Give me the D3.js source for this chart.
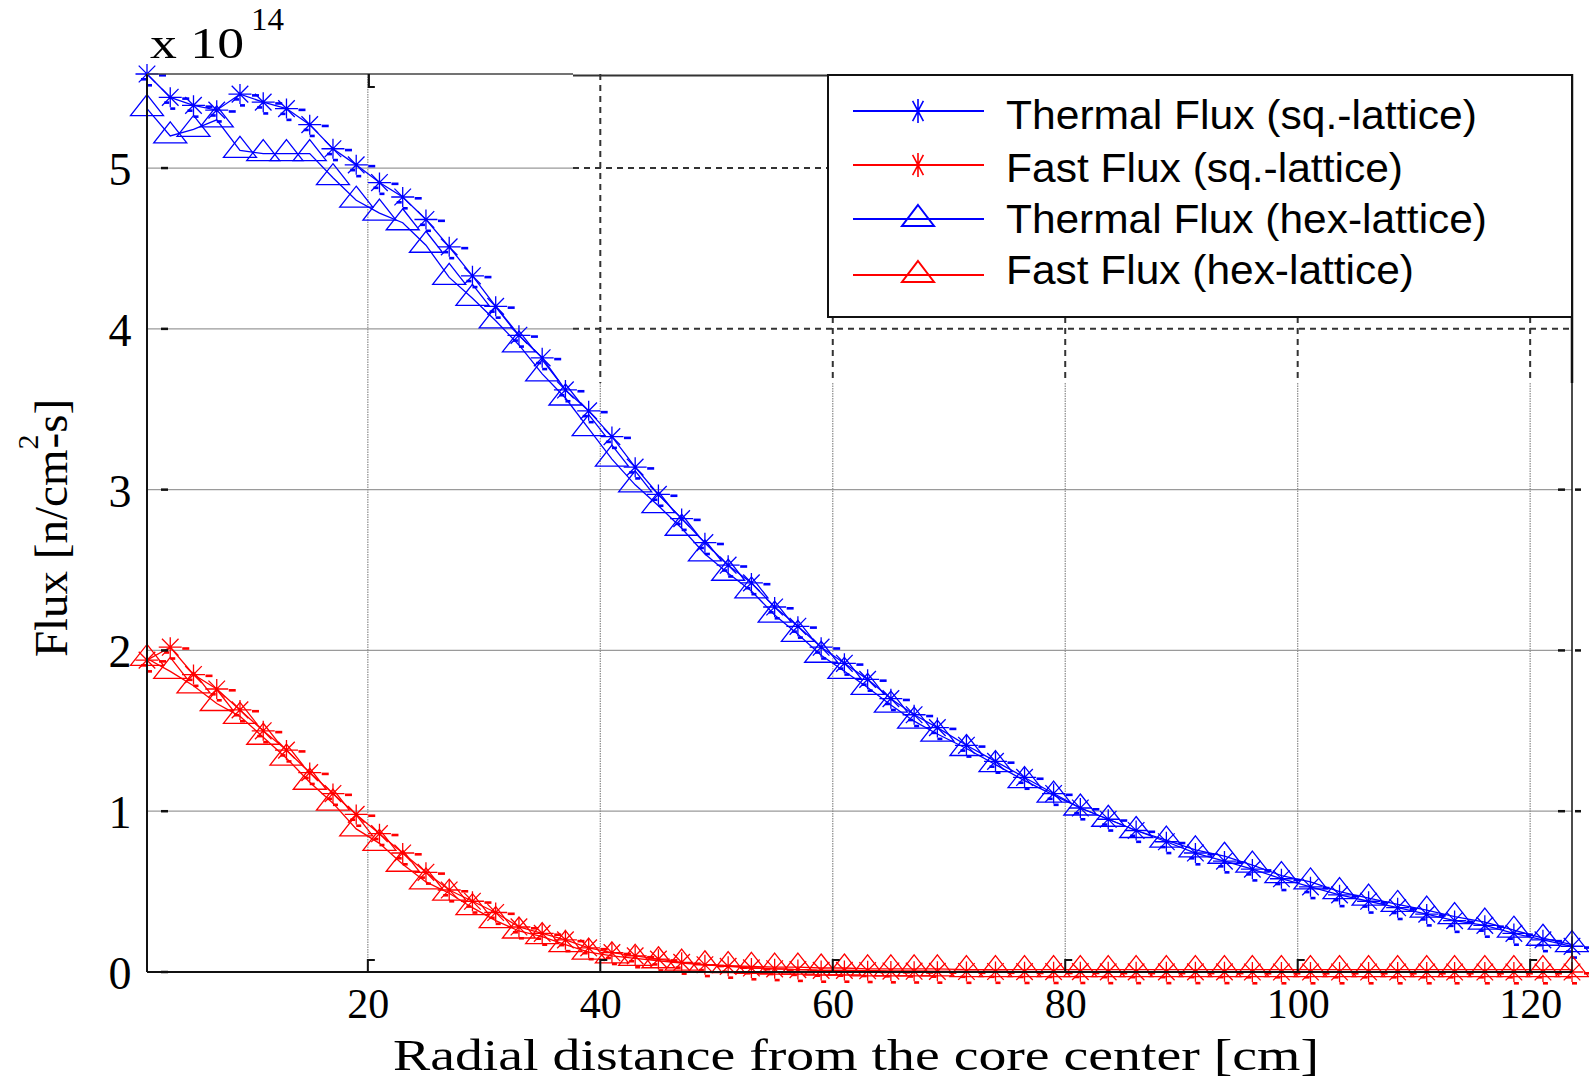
<!DOCTYPE html>
<html><head><meta charset="utf-8">
<script src="https://cdn.jsdelivr.net/npm/d3@7"></script>
<style>html,body{margin:0;padding:0;background:#fff;} svg{display:block;}</style>
</head><body>
<svg id="chart" width="1589" height="1081"></svg>
<script>
const radius = [1,3,5,7,9,11,13,15,17,19,21,23,25,27,29,31,33,35,37,39,41,43,45,47,49,51,53,55,57,59,61,63,65,67,69,71.5,74,76.5,79,81.3,83.7,86.1,88.7,91.2,93.7,96.1,98.6,101.1,103.6,106.1,108.6,111.1,113.5,116.1,118.6,121.1,123.6];
const thermalSq = [5.585,5.44,5.39,5.36,5.46,5.41,5.37,5.27,5.12,5.02,4.91,4.82,4.68,4.51,4.33,4.14,3.96,3.82,3.62,3.49,3.33,3.14,2.97,2.82,2.67,2.53,2.42,2.27,2.15,2.02,1.92,1.82,1.70,1.60,1.52,1.41,1.31,1.21,1.11,1.02,0.95,0.88,0.81,0.74,0.69,0.64,0.58,0.53,0.48,0.44,0.40,0.36,0.32,0.29,0.24,0.20,0.16];
const fastSq = [1.94,2.02,1.85,1.76,1.63,1.50,1.38,1.24,1.11,0.98,0.86,0.74,0.62,0.51,0.44,0.37,0.28,0.24,0.20,0.15,0.12,0.10,0.08,0.06,0.045,0.035,0.025,0.02,0.015,0.01,0.01,0.008,0.006,0.005,0.004,0.003,0.003,0.002,0.002,0.002,0.001,0.001,0.001,0.001,0.001,0,0,0,0,0,0,0,0,0,0,0,0];
const thermalHex = [5.37,5.20,5.24,5.30,5.11,5.09,5.09,5.09,4.94,4.80,4.72,4.66,4.52,4.32,4.19,4.05,3.90,3.72,3.57,3.38,3.19,3.03,2.90,2.76,2.60,2.48,2.37,2.22,2.10,1.97,1.87,1.77,1.66,1.56,1.48,1.39,1.29,1.19,1.10,1.02,0.95,0.88,0.82,0.76,0.72,0.665,0.60,0.56,0.50,0.46,0.42,0.385,0.345,0.31,0.26,0.21,0.17];
const fastHex = [1.95,1.87,1.78,1.67,1.59,1.46,1.33,1.18,1.05,0.89,0.80,0.67,0.56,0.49,0.40,0.32,0.255,0.22,0.17,0.124,0.10,0.085,0.07,0.055,0.045,0.04,0.035,0.03,0.03,0.025,0.025,0.02,0.02,0.02,0.02,0.015,0.015,0.015,0.015,0.015,0.015,0.015,0.015,0.015,0.015,0.015,0.015,0.015,0.015,0.015,0.015,0.015,0.015,0.015,0.015,0.015,0.015];
const xTicks = [20,40,60,80,100,120];
const yTicks = [0,1,2,3,4,5];
const legendLabels = ["Thermal Flux (sq.-lattice)","Fast Flux (sq.-lattice)","Thermal Flux (hex-lattice)","Fast Flux (hex-lattice)"];
const xTitle = "Radial distance from the core center [cm]";

const svg = d3.select("#chart");
const L = 147, R = 1572, T = 74, B = 972;
const x = d3.scaleLinear().domain([1, 123.6]).range([L, R]);
const y = d3.scaleLinear().domain([0, 5.585]).range([B, T]);
const serif = "'Liberation Serif','Times New Roman',serif";
const sans = "'Liberation Sans',Arial,sans-serif";

// ---- grid ----
const grid = svg.append("g");
const splitX = 573, legL = 828, legT = 75, legB = 317, dashEnd = 383;
yTicks.filter(v => v > 0).forEach(v => {
  const yy = y(v);
  if (v <= 3) {
    grid.append("line").attr("x1", L).attr("x2", R).attr("y1", yy).attr("y2", yy)
      .attr("stroke", "#9a9a9a").attr("stroke-width", 1.3);
  } else {
    grid.append("line").attr("x1", L).attr("x2", splitX).attr("y1", yy).attr("y2", yy)
      .attr("stroke", "#9a9a9a").attr("stroke-width", 1.3);
    grid.append("line").attr("x1", splitX).attr("x2", v === 5 ? legL : R).attr("y1", yy).attr("y2", yy)
      .attr("stroke", "#333").attr("stroke-width", 2).attr("stroke-dasharray", "6,5");
  }
});
xTicks.forEach(v => {
  const xx = x(v);
  if (v === 20) {
    grid.append("line").attr("x1", xx).attr("x2", xx).attr("y1", T).attr("y2", B)
      .attr("stroke", "#8a8a8a").attr("stroke-width", 1.2).attr("stroke-dasharray", "1.5,1");
  } else {
    grid.append("line").attr("x1", xx).attr("x2", xx).attr("y1", v === 40 ? T : legB).attr("y2", dashEnd)
      .attr("stroke", "#333").attr("stroke-width", 2).attr("stroke-dasharray", "6,5");
    grid.append("line").attr("x1", xx).attr("x2", xx).attr("y1", dashEnd).attr("y2", B)
      .attr("stroke", "#8a8a8a").attr("stroke-width", 1.2).attr("stroke-dasharray", "1.5,1");
  }
});

// ---- markers ----
function starPath(w, h) {
  const a = w * 0.36, b = h * 0.42;
  return `M${-w/2},0H${w/2}M0,${-h/2}V${h/2}M${-a},${-b}L${a},${b}M${-a},${b}L${a},${-b}`;
}
function triPath(w, h) {
  return `M0,${-h*2/3}L${w/2},${h/3}L${-w/2},${h/3}Z`;
}
const series = [
  {vals: thermalHex, color: "#0000ff", marker: "tri"},
  {vals: thermalSq, color: "#0000ff", marker: "star"},
  {vals: fastHex, color: "#ff0000", marker: "tri"},
  {vals: fastSq, color: "#ff0000", marker: "star"}
];
const line = d3.line().x((d, i) => x(radius[i])).y(d => y(d));
const plot = svg.append("g");
series.forEach(s => {
  const g = plot.append("g");
  g.append("path").attr("d", line(s.vals)).attr("fill", "none")
    .attr("stroke", s.color).attr("stroke-width", 1.3);
  s.vals.forEach((v, i) => {
    const px = x(radius[i]), py = y(v);
    if (s.marker === "tri") {
      g.append("path").attr("d", triPath(33, 21)).attr("transform", `translate(${px},${py})`)
        .attr("fill", "none").attr("stroke", s.color).attr("stroke-width", 1.3);
    } else {
      g.append("path").attr("d", starPath(23, 20)).attr("transform", `translate(${px},${py})`)
        .attr("fill", "none").attr("stroke", s.color).attr("stroke-width", 1.3);
      [[12, 0, 7], [-6, 4, 5], [0, 10, 5]].forEach(([dx, dy, w]) => {
        g.append("rect").attr("x", px + dx).attr("y", py + dy).attr("width", w).attr("height", 2.6)
          .attr("fill", s.color);
      });
    }
  });
});

// ---- axes box ----
const box = svg.append("g").attr("stroke", "#111").attr("fill", "none");
box.append("line").attr("x1", L).attr("x2", L).attr("y1", T).attr("y2", B).attr("stroke-width", 2);
box.append("line").attr("x1", L).attr("x2", R).attr("y1", B).attr("y2", B).attr("stroke-width", 2);
box.append("line").attr("x1", L).attr("x2", splitX).attr("y1", T).attr("y2", T).attr("stroke-width", 1.6).attr("stroke", "#444");
box.append("line").attr("x1", splitX).attr("x2", legL).attr("y1", T + 1.5).attr("y2", T + 1.5).attr("stroke-width", 2).attr("stroke", "#333");
box.append("line").attr("x1", R).attr("x2", R).attr("y1", T).attr("y2", dashEnd).attr("stroke-width", 2.5);
box.append("line").attr("x1", R).attr("x2", R).attr("y1", dashEnd).attr("y2", B).attr("stroke-width", 1.5);
// small tick marks
yTicks.forEach(v => {
  box.append("line").attr("x1", 161).attr("x2", 168).attr("y1", y(v)).attr("y2", y(v)).attr("stroke-width", 2.5);
  if (v > 0 && v < 4) {
    box.append("line").attr("x1", 1558).attr("x2", 1565).attr("y1", y(v)).attr("y2", y(v)).attr("stroke-width", 2.5);
    box.append("line").attr("x1", 1575).attr("x2", 1581).attr("y1", y(v)).attr("y2", y(v)).attr("stroke-width", 2.5);
  }
});
xTicks.forEach(v => {
  const xx = x(v);
  box.append("path").attr("d", `M${xx},${B}V${B-12}H${xx+7}`).attr("stroke-width", 2);
  if (v === 20) box.append("path").attr("d", `M${xx+1},${T}V${T+13}H${xx+7}`).attr("stroke-width", 2.2);
});

// ---- tick labels via d3 axes ----
const xAxis = svg.append("g").attr("transform", `translate(0,${B})`)
  .call(d3.axisBottom(x).tickValues(xTicks).tickSize(0).tickFormat(d3.format("d")));
xAxis.select(".domain").remove();
xAxis.selectAll("text").attr("y", 46).attr("dy", "0em")
  .style("font-family", serif).style("font-size", "42px").attr("fill", "#000");
const yAxis = svg.append("g").attr("transform", `translate(${L},0)`)
  .call(d3.axisLeft(y).tickValues(yTicks).tickSize(0).tickFormat(d3.format("d")));
yAxis.select(".domain").remove();
yAxis.selectAll("text").attr("x", -27).attr("dy", "0.36em").attr("text-anchor", "middle")
  .style("font-family", serif).style("font-size", "46px").attr("fill", "#000");

// ---- exponent ----
svg.append("text").attr("x", 150).attr("y", 58).style("font-family", serif).style("font-size", "44px")
  .attr("textLength", 94).attr("lengthAdjust", "spacingAndGlyphs").text("x 10");
svg.append("text").attr("x", 251).attr("y", 30).style("font-family", serif).style("font-size", "31px")
  .attr("textLength", 33).attr("lengthAdjust", "spacingAndGlyphs").text("14");

// ---- axis titles ----
svg.append("text").attr("x", 856).attr("y", 1070).attr("text-anchor", "middle")
  .style("font-family", serif).style("font-size", "44px")
  .attr("textLength", 926).attr("lengthAdjust", "spacingAndGlyphs").text(xTitle);
const yt = svg.append("text").attr("transform", "translate(67,528) rotate(-90)").attr("text-anchor", "middle")
  .style("font-family", serif).style("font-size", "47px");
yt.append("tspan").text("Flux [n/cm");
yt.append("tspan").attr("dy", -29).style("font-size", "30px").text("2");
yt.append("tspan").attr("dy", 29).attr("dx", -14).text("-s]");

// ---- legend ----
const lg = svg.append("g");
lg.append("rect").attr("x", legL).attr("y", legT).attr("width", R - legL).attr("height", legB - legT)
  .attr("fill", "#fff").attr("stroke", "#111").attr("stroke-width", 2);
const rowY = [111, 165, 219, 275];
const baseY = [129, 182, 233, 284];
const textLen = [471, 397, 481, 408];
const legSeries = [series[1], series[3], series[0], series[2]];
legSeries.forEach((s, i) => {
  lg.append("line").attr("x1", 853).attr("x2", 984).attr("y1", rowY[i]).attr("y2", rowY[i])
    .attr("stroke", s.color).attr("stroke-width", 2);
  if (s.marker === "star") {
    lg.append("path").attr("d", starPath(15, 24)).attr("transform", `translate(918,${rowY[i]})`)
      .attr("fill", "none").attr("stroke", s.color).attr("stroke-width", 1.6);
  } else {
    lg.append("path").attr("d", triPath(32, 21)).attr("transform", `translate(918,${rowY[i]})`)
      .attr("fill", "none").attr("stroke", s.color).attr("stroke-width", 2);
  }
  lg.append("text").attr("x", 1006).attr("y", baseY[i]).style("font-family", sans).style("font-size", "40px")
    .attr("textLength", textLen[i]).attr("lengthAdjust", "spacingAndGlyphs").attr("fill", "#000")
    .text(legendLabels[i]);
});
</script>
</body></html>
